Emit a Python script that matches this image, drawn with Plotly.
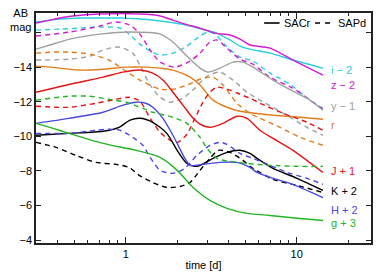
import plotly.graph_objects as go

# ---- data (time in days, AB magnitude with offset) ----
# i - 2
t_i_sacr = [0.299, 0.361, 0.413, 0.540, 0.708, 0.926, 1.21, 1.59, 1.94, 2.38, 2.91, 3.42, 4.07, 4.66, 5.33, 6.98, 9.51, 14.25]
m_i_sacr = [-16.61, -16.72, -16.78, -16.84, -16.84, -16.84, -16.78, -16.67, -16.55, -16.38, -16.14, -15.97, -15.57, -15.22, -15.04, -14.81, -14.41, -13.94]
t_i_sapd = [0.299, 0.413, 0.540, 0.708, 0.926, 1.06, 1.21, 1.39, 1.59, 1.89, 2.28, 2.72, 3.03, 3.33, 3.81, 4.66, 5.55, 6.98, 9.14, 11.96, 14.25]
m_i_sapd = [-16.14, -16.20, -16.26, -16.32, -16.26, -15.86, -15.33, -14.93, -14.70, -14.81, -15.22, -15.80, -16.03, -15.91, -15.28, -14.58, -14.35, -13.65, -13.01, -12.09, -11.62]
# z - 2
t_z_sacr = [0.299, 0.361, 0.413, 0.492, 0.708, 1.21, 1.59, 1.89, 2.22, 2.72, 3.33, 4.07, 4.66, 5.33, 6.98, 9.51, 14.25]
m_z_sacr = [-16.55, -16.72, -16.84, -16.96, -17.07, -17.07, -16.96, -16.72, -16.49, -16.26, -15.97, -15.86, -15.62, -15.28, -15.10, -14.41, -13.54]
t_z_sapd = [0.299, 0.472, 0.708, 0.877, 1.06, 1.21, 1.39, 1.59, 1.94, 2.38, 2.72, 3.11, 3.42, 3.91, 4.66, 5.55, 6.98, 9.51, 11.96, 14.25]
m_z_sapd = [-15.80, -16.03, -16.38, -16.61, -16.43, -15.91, -14.99, -14.29, -14.00, -14.35, -14.81, -15.45, -15.57, -15.10, -14.46, -14.17, -13.42, -12.78, -12.09, -11.57]
# y - 1
t_y_sacr = [0.299, 0.361, 0.472, 0.708, 1.06, 1.59, 1.89, 2.28, 2.72, 3.03, 3.56, 4.24, 4.85, 5.55, 7.27, 9.51, 11.49, 14.25]
m_y_sacr = [-15.04, -15.28, -15.62, -15.91, -16.03, -15.91, -15.45, -14.64, -13.94, -13.71, -13.94, -14.29, -14.29, -14.00, -13.25, -12.61, -12.20, -11.51]
t_y_sapd = [0.299, 0.472, 0.618, 0.737, 0.914, 1.10, 1.21, 1.39, 1.59, 1.82, 2.16, 2.54, 2.99, 3.56, 4.24, 5.12, 6.10, 7.27, 9.14, 11.49, 14.25]
m_y_sapd = [-14.41, -14.46, -14.64, -14.99, -15.16, -14.81, -14.12, -12.96, -12.26, -11.97, -12.20, -12.78, -13.48, -13.71, -13.25, -12.55, -12.09, -11.68, -11.10, -10.52, -10.06]
# r
t_r_sacr = [0.299, 0.361, 0.540, 0.737, 1.004, 1.31, 1.59, 1.89, 2.38, 2.72, 3.24, 3.91, 4.66, 5.70, 7.27, 10.45, 14.25]
m_r_sacr = [-14.06, -14.00, -13.83, -13.88, -14.00, -14.00, -13.94, -13.83, -13.42, -12.96, -12.09, -11.68, -11.45, -11.33, -11.22, -11.10, -10.99]
t_r_sapd = [0.299, 0.376, 0.472, 0.618, 0.798, 1.045, 1.21, 1.39, 1.59, 1.89, 2.28, 2.72, 3.24, 3.71, 4.48, 5.33, 6.10, 7.99, 10.45, 14.25]
m_r_sapd = [-14.81, -14.87, -14.87, -14.75, -14.41, -13.65, -13.25, -12.96, -12.72, -12.72, -12.96, -13.30, -13.42, -12.96, -11.91, -11.33, -11.04, -10.52, -9.94, -9.48]
# J + 1
t_J_sacr = [0.299, 0.472, 0.737, 0.964, 1.21, 1.44, 1.65, 1.89, 2.16, 2.48, 2.72, 3.11, 3.71, 4.48, 5.12, 6.10, 7.27, 9.51, 14.25]
m_J_sacr = [-12.55, -13.01, -13.42, -13.71, -13.83, -13.65, -13.25, -12.55, -11.80, -11.04, -10.70, -10.52, -10.75, -11.16, -11.04, -10.35, -9.88, -9.19, -7.91]
t_J_sapd = [0.299, 0.391, 0.472, 0.670, 0.877, 1.045, 1.21, 1.39, 1.59, 1.82, 2.02, 2.28, 2.54, 2.83, 3.11, 3.42, 4.07, 4.66, 5.33, 6.10, 8.32, 11.49, 14.25]
m_J_sapd = [-11.74, -11.68, -11.68, -11.91, -12.14, -12.26, -12.03, -11.04, -10.23, -9.77, -9.65, -10.12, -11.04, -11.97, -12.55, -12.84, -12.67, -12.43, -12.20, -11.91, -11.33, -10.81, -10.35]
# K + 2
t_K_sacr = [0.299, 0.466, 0.737, 0.914, 1.06, 1.21, 1.44, 1.74, 2.00, 2.28, 2.61, 3.24, 3.91, 4.66, 5.33, 5.86, 7.27, 10.04, 14.25]
m_K_sacr = [-10.06, -10.17, -10.29, -10.52, -10.93, -11.04, -10.81, -10.17, -9.19, -8.43, -8.26, -8.72, -9.07, -9.19, -9.01, -8.72, -8.15, -7.57, -6.87]
t_K_sapd = [0.299, 0.391, 0.512, 0.670, 0.877, 1.045, 1.20, 1.44, 1.74, 2.08, 2.38, 2.72, 3.11, 3.47, 4.07, 4.85, 5.33, 7.27, 10.04, 14.25]
m_K_sapd = [-9.65, -9.36, -8.90, -8.49, -8.38, -8.20, -7.74, -7.33, -7.04, -7.10, -7.33, -8.03, -8.72, -9.19, -9.07, -8.61, -8.26, -7.51, -7.16, -6.75]
# H + 2
t_H_sacr = [0.299, 0.466, 0.737, 0.964, 1.15, 1.31, 1.44, 1.65, 1.82, 2.00, 2.22, 2.38, 2.83, 3.56, 4.48, 5.33, 5.86, 7.27, 9.14, 14.25]
m_H_sacr = [-10.75, -11.04, -11.39, -11.80, -11.97, -11.91, -11.68, -11.04, -10.35, -9.59, -8.72, -8.32, -8.38, -8.49, -8.49, -8.20, -7.91, -7.57, -7.28, -6.46]
t_H_sapd = [0.299, 0.466, 0.670, 0.798, 0.926, 1.10, 1.26, 1.39, 1.59, 1.89, 2.22, 2.61, 3.11, 3.56, 3.91, 4.66, 5.55, 6.35, 8.78, 11.49, 14.25]
m_H_sapd = [-10.17, -10.17, -10.35, -10.41, -10.35, -9.94, -9.48, -8.78, -8.03, -7.86, -8.15, -8.90, -9.48, -9.65, -9.53, -9.01, -8.72, -8.49, -7.91, -7.57, -7.22]
# g + 3
t_g_sacr = [0.299, 0.376, 0.466, 0.737, 1.15, 1.59, 2.00, 2.48, 3.11, 3.91, 5.12, 6.98, 10.45, 14.25]
m_g_sacr = [-10.75, -10.46, -10.17, -9.59, -9.19, -8.78, -8.03, -7.04, -6.29, -5.83, -5.54, -5.42, -5.25, -5.13]
t_g_sapd = [0.299, 0.466, 0.610, 0.798, 1.004, 1.26, 1.44, 1.89, 2.28, 2.72, 2.99, 3.42, 4.07, 5.12, 6.98, 10.45, 14.25]
m_g_sapd = [-12.09, -12.32, -12.32, -12.14, -11.97, -11.62, -11.39, -11.10, -10.75, -9.94, -9.30, -8.72, -8.55, -8.43, -8.32, -8.26, -8.26]

band_labels = ["i − 2", "z − 2", "y − 1", "r", "J + 1", "K + 2", "H + 2", "g + 3"]
y_ticks = [-16, -14, -12, -10, -8, -6, -4]
y_ticktext = ["", "−14", "−12", "−10", "−8", "−6", "−4"]
x_ticks = [1, 10]
x_minor = [0.3, 0.4, 0.5, 0.6, 0.7, 0.8, 0.9, 2, 3, 4, 5, 6, 7, 8, 9, 20]
legend_names = ["SACr", "SAPd"]

# ---- styling ----
colors = {
    "i − 2": "#2ccfe0",
    "z − 2": "#d21cd2",
    "y − 1": "#a0a0a0",
    "r": "#e27d1e",
    "J + 1": "#e41414",
    "K + 2": "#000000",
    "H + 2": "#4848e4",
    "g + 3": "#24b424",
}
series = {
    "i − 2": (t_i_sacr, m_i_sacr, t_i_sapd, m_i_sapd),
    "z − 2": (t_z_sacr, m_z_sacr, t_z_sapd, m_z_sapd),
    "y − 1": (t_y_sacr, m_y_sacr, t_y_sapd, m_y_sapd),
    "r": (t_r_sacr, m_r_sacr, t_r_sapd, m_r_sapd),
    "J + 1": (t_J_sacr, m_J_sacr, t_J_sapd, m_J_sapd),
    "K + 2": (t_K_sacr, m_K_sacr, t_K_sapd, m_K_sapd),
    "H + 2": (t_H_sacr, m_H_sacr, t_H_sapd, m_H_sapd),
    "g + 3": (t_g_sacr, m_g_sacr, t_g_sapd, m_g_sapd),
}
label_y = {"i − 2": -13.83, "z − 2": -12.96, "y − 1": -11.74, "r": -10.64,
           "J + 1": -7.97, "K + 2": -6.81, "H + 2": -5.71, "g + 3": -4.96}

DASH = "5px,4px"
LW = 1.4
SMOOTH = 0.7
FONT = "Liberation Sans, Arial, Helvetica, sans-serif"

fig = go.Figure()
for name in band_labels:
    ts, ms, td, md = series[name]
    c = colors[name]
    fig.add_trace(go.Scatter(x=td, y=md, mode="lines", showlegend=False,
                             line=dict(color=c, width=LW, dash=DASH, shape="spline", smoothing=SMOOTH)))
    fig.add_trace(go.Scatter(x=ts, y=ms, mode="lines", showlegend=False,
                             line=dict(color=c, width=LW, shape="spline", smoothing=SMOOTH)))

for name in band_labels:
    fig.add_annotation(x=1.207, xref="x", y=label_y[name], yref="y", text=name,
                       showarrow=False, xanchor="left", yanchor="middle", borderpad=0,
                       xshift=-2,
                       font=dict(color=colors[name], size=11, family=FONT))

# manual legend (line samples + names)
LEG_Y = 0.9565
fig.add_shape(type="line", xref="paper", yref="paper", x0=0.681, x1=0.727, y0=LEG_Y, y1=LEG_Y,
              line=dict(color="black", width=1.6))
fig.add_shape(type="line", xref="paper", yref="paper", x0=0.833, x1=0.881, y0=LEG_Y, y1=LEG_Y,
              line=dict(color="black", width=1.6, dash="5px,5px"))
fig.add_annotation(x=0.736, xref="paper", y=LEG_Y, yref="paper", text=legend_names[0],
                   showarrow=False, xanchor="left", yanchor="middle", borderpad=0,
                   font=dict(size=11, color="black", family=FONT))
fig.add_annotation(x=0.899, xref="paper", y=LEG_Y, yref="paper", text=legend_names[1],
                   showarrow=False, xanchor="left", yanchor="middle", borderpad=0,
                   font=dict(size=11, color="black", family=FONT))

fig.add_annotation(x=-0.0815, xref="paper", y=1.03, yref="paper", text="AB<br>mag",
                   showarrow=False, xanchor="left", yanchor="top", align="center",
                   borderpad=0,
                   font=dict(size=11, color="black", family=FONT))

# the page body adds an 8px offset; margins compensate so the plot area lands
# at x 36..371, y 13..243 of the 390x273 window
fig.update_layout(
    width=390, height=273,
    margin=dict(l=28, r=27, t=5, b=38),
    paper_bgcolor="white", plot_bgcolor="white",
    font=dict(family=FONT, size=11, color="black"),
    showlegend=False,
)
fig.update_xaxes(type="log", range=[-0.5246, 1.4346], automargin=False,
                 tickvals=x_ticks, ticktext=[str(v) for v in x_ticks],
                 ticks="inside", ticklen=6, tickcolor="#222", tickwidth=1,
                 minor=dict(tickvals=x_minor, ticks="inside", ticklen=3, tickcolor="#222"),
                 showline=True, linecolor="#222", linewidth=1.5, mirror="ticks",
                 showgrid=False, zeroline=False,
                 title=dict(text="time [d]", standoff=2, font=dict(size=11)))
fig.update_yaxes(range=[-3.83, -17.13], automargin=False,
                 tickvals=y_ticks, ticktext=y_ticktext,
                 ticks="inside", ticklen=5, tickcolor="#222", tickwidth=1,
                 showline=True, linecolor="#222", linewidth=1.5, mirror="ticks",
                 showgrid=False, zeroline=False)

fig.write_html("out.html")
